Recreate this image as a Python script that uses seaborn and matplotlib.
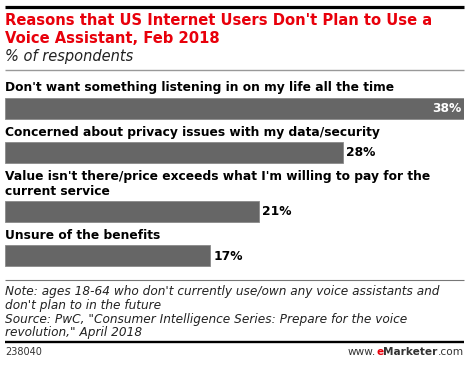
import matplotlib
matplotlib.use("Agg")
import matplotlib.pyplot as plt
import seaborn as sns
import pandas as pd

sns.set_style("white")
plt.rcParams["font.family"] = ["DejaVu Sans"]

# Data
reasons = [
    "Don't want something listening in on my life all the time",
    "Concerned about privacy issues with my data/security",
    "Value isn't there/price exceeds what I'm willing to pay for the\ncurrent service",
    "Unsure of the benefits",
]
shares = [38, 28, 21, 17]
value_labels = ["38%", "28%", "21%", "17%"]

title = "Reasons that US Internet Users Don't Plan to Use a\nVoice Assistant, Feb 2018"
subtitle = "% of respondents"
note_lines = [
    "Note: ages 18-64 who don't currently use/own any voice assistants and",
    "don't plan to in the future",
    "Source: PwC, \"Consumer Intelligence Series: Prepare for the voice",
    "revolution,\" April 2018",
]
chart_id = "238040"

W, H = 470, 365
BAR_COLOR = "#666666"
RED = "#e8000b"

# layout in pixels from the top: bar centres follow the label line counts
centres = []
pos = 108
for i, r in enumerate(reasons):
    if i > 0:
        pos += 44.5 + 14.5 * (r.count("\n"))
    centres.append(pos)
bar_px = 21

df = pd.DataFrame({"reason": reasons, "share": shares, "pos": centres})

fig = plt.figure(figsize=(W / 100, H / 100), dpi=100)

# background axes in pixel units for the text and rules
bg = fig.add_axes([0, 0, 1, 1])
bg.set_xlim(0, W)
bg.set_ylim(H, 0)
bg.axis("off")

bg.plot([5, 464], [6.5, 6.5], color="black", lw=2.3, solid_capstyle="butt")
bg.text(5, 25, title.split("\n")[0], color=RED, fontsize=10.6, fontweight="bold",
        va="baseline", ha="left")
bg.text(5, 43.3, title.split("\n")[1], color=RED, fontsize=10.6, fontweight="bold",
        va="baseline", ha="left")
bg.text(5, 61.5, subtitle, fontsize=10.5, style="italic", va="baseline", color="#222222")
bg.plot([5, 464], [69.8, 69.8], color="#999999", lw=1, solid_capstyle="butt")

bg.plot([5, 464], [280, 280], color="#777777", lw=0.8, solid_capstyle="butt")
for k, line in enumerate(note_lines):
    bg.text(5, 295.5 + k * 13.6, line, fontsize=8.75, style="italic",
            va="baseline", color="#222222")
bg.plot([5, 464], [342, 342], color="black", lw=1.7, solid_capstyle="butt")
bg.text(5, 355, chart_id, fontsize=7, va="baseline", color="#333333")

# www.eMarketer.com built right to left
fig.canvas.draw()
renderer = fig.canvas.get_renderer()
x_right = 464
for txt, col, wt in [(".com", "#333333", "normal"), ("Marketer", "#333333", "bold"),
                     ("e", RED, "bold"), ("www.", "#333333", "normal")]:
    t = bg.text(x_right, 355, txt, fontsize=7.6, fontweight=wt, color=col,
                ha="right", va="baseline")
    bb = t.get_window_extent(renderer=renderer)
    x_right -= bb.width * 100 / fig.dpi

# bar axes: x in share units, y in pixels from the top
ax = fig.add_axes([5 / W, (H - 272) / H, 459 / W, (272 - 75) / H])
sns.barplot(data=df, x="share", y="pos", orient="y", native_scale=True,
            width=bar_px / 44.5, color=BAR_COLOR, saturation=1, ax=ax,
            edgecolor="#8a8a8a", linewidth=0.6)
ax.set_xlim(0, 38)
ax.set_ylim(272, 75)
ax.axis("off")

for i, row in df.iterrows():
    lines = row["reason"].split("\n")
    top = row["pos"] - bar_px / 2 - 6
    for k, line in enumerate(reversed(lines)):
        ax.text(0, top - k * 14.5, line, fontsize=8.8,
                fontweight="bold", va="baseline", ha="left", color="black")
    if i == 0:
        ax.text(row["share"] - 0.25, row["pos"] + 0.5, value_labels[i], color="white",
                fontsize=8.8, fontweight="bold", va="center", ha="right")
    else:
        ax.text(row["share"] + 0.25, row["pos"] + 0.5, value_labels[i], color="black",
                fontsize=8.8, fontweight="bold", va="center", ha="left")

fig.savefig("out.png", dpi=100)
